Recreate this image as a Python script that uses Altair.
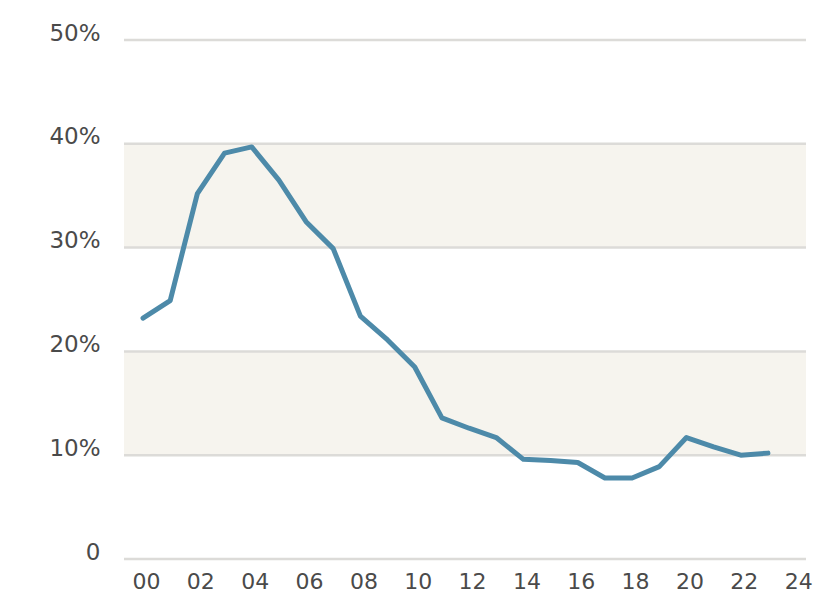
import altair as alt
import pandas as pd

years = list(range(0, 24))
values = [23.2, 24.9, 35.2, 39.1, 39.7, 36.5, 32.5, 29.9, 23.4, 21.1,
          18.5, 13.6, 12.6, 11.7, 9.6, 9.5, 9.3, 7.8, 7.8, 8.9,
          11.7, 10.8, 10.0, 10.2]
y_ticks = [0, 10, 20, 30, 40, 50]
x_ticks = list(range(0, 25, 2))
band_lo = [10, 30]
band_hi = [20, 40]

W, H = 682, 519
line_color = "#4d8aa9"
band_color = "#f6f4ee"
grid_color = "#dcdbd8"
label_color = "#4a4a4a"
font = "DejaVu Sans"

df = pd.DataFrame({"year": years, "value": values})
bands = pd.DataFrame({"lo": band_lo, "hi": band_hi})
grid = pd.DataFrame({"v": y_ticks})

xscale = alt.Scale(domain=[-0.7, 24.4], nice=False, zero=False)
yscale = alt.Scale(domain=[0, 50], nice=False)

yaxis = alt.Axis(values=y_ticks, title=None, domain=False, ticks=False,
                 grid=False, labelFontSize=23, labelFont=font,
                 labelColor=label_color, labelPadding=24, labelOffset=-7,
                 labelExpr="datum.value == 0 ? '0' : datum.value + '%'")
xaxis = alt.Axis(values=x_ticks, title=None, domain=False, ticks=False,
                 grid=False, labelFontSize=22, labelFont=font,
                 labelColor=label_color, labelPadding=12, labelOffset=3,
                 labelExpr="datum.value < 10 ? '0' + datum.value : '' + datum.value")

rects = alt.Chart(bands).mark_rect(color=band_color, strokeWidth=0).encode(
    y=alt.Y("lo:Q", scale=yscale, axis=yaxis), y2="hi:Q",
)

rules = alt.Chart(grid).mark_rule(color=grid_color, strokeWidth=2.5).encode(
    y=alt.Y("v:Q", scale=yscale, axis=yaxis),
)

line = alt.Chart(df).mark_line(color=line_color, strokeWidth=5,
                                strokeCap="round", strokeJoin="round").encode(
    x=alt.X("year:Q", scale=xscale, axis=xaxis),
    y=alt.Y("value:Q", scale=yscale, axis=yaxis),
)

chart = alt.layer(rects, rules, line).properties(
    width=W, height=H,
    background="white",
    autosize=alt.AutoSizeParams(type="none"),
    padding={"left": 116, "top": 32, "right": 8, "bottom": 38},
).configure_view(stroke=None).configure_axis(
    domain=False, grid=False, ticks=False
)

chart.save("out.html", embed_options={"renderer": "svg", "actions": False})
